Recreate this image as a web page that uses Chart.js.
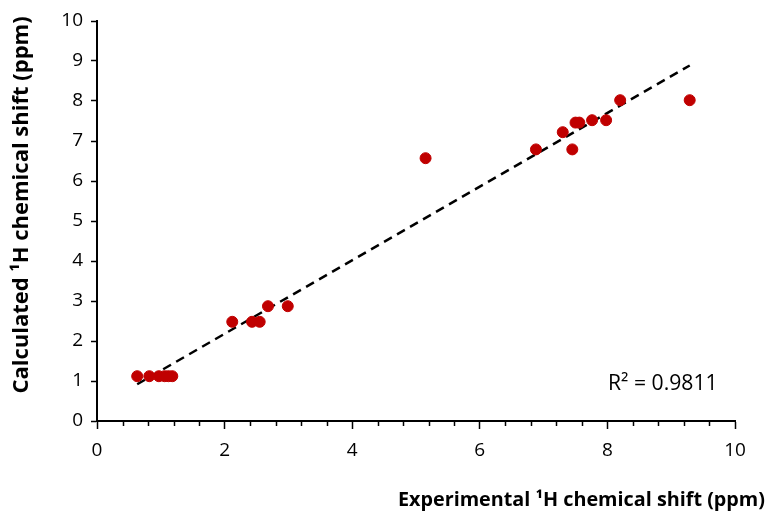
<!DOCTYPE html>
<html>
<head>
<meta charset="utf-8">
<script src="https://cdn.jsdelivr.net/npm/chart.js@4.4.0/dist/chart.umd.min.js"></script>
<style>
  html, body { margin: 0; padding: 0; background: #fff; }
  #wrap { width: 769px; height: 515px; position: relative; }
</style>
</head>
<body>
<div id="wrap"><canvas id="myChart" width="769" height="515"></canvas></div>
<script>
// experimental vs calculated 1H shifts (ppm)
var exp_shift = [0.63, 0.82, 0.97, 1.06, 1.12, 1.18, 2.12, 2.43, 2.55, 2.68, 2.99,
                 5.15, 6.88, 7.30, 7.45, 7.50, 7.56, 7.76, 7.98, 8.20, 9.29];
var calc_shift = [1.12, 1.12, 1.12, 1.12, 1.12, 1.12, 2.48, 2.48, 2.48, 2.87, 2.87,
                  6.57, 6.79, 7.22, 6.79, 7.46, 7.46, 7.52, 7.52, 8.02, 8.02];
var x_ticks = [0, 2, 4, 6, 8, 10];
var y_ticks = [0, 1, 2, 3, 4, 5, 6, 7, 8, 9, 10];
var r2_label = 'R² = 0.9811';
var x_title = 'Experimental ¹H chemical shift (ppm)';
var y_title = 'Calculated ¹H chemical shift (ppm)';

var font_family = '"Open Sans", sans-serif';

function linear_fit (xs, ys) {
  var n = xs.length, sx = 0, sy = 0, sxx = 0, sxy = 0;
  for (var i = 0; i < n; i++) {
    sx += xs[i]; sy += ys[i]; sxx += xs[i] * xs[i]; sxy += xs[i] * ys[i];
  }
  var slope = (n * sxy - sx * sy) / (n * sxx - sx * sx);
  return { slope: slope, intercept: (sy - slope * sx) / n };
}

// pick a font size so the text spans about the given width
function fit_font (ctx, text, weight, width) {
  ctx.font = weight + ' 20px ' + font_family;
  var size = 20 * width / ctx.measureText(text).width;
  ctx.font = weight + ' ' + size.toFixed(1) + 'px ' + font_family;
}

var points = exp_shift.map(function (v, i) { return { x: v, y: calc_shift[i] }; });
var fit = linear_fit(exp_shift, calc_shift);
var xmin = Math.min.apply(null, exp_shift), xmax = Math.max.apply(null, exp_shift);
var trend = [
  { x: xmin, y: fit.slope * xmin + fit.intercept },
  { x: xmax, y: fit.slope * xmax + fit.intercept }
];

// axis titles, r2 text and x minor ticks
var extras = {
  id: 'extras',
  afterDraw: function (chart) {
    var ctx = chart.ctx, xs = chart.scales.x, area = chart.chartArea;
    ctx.save();
    ctx.strokeStyle = '#000';
    ctx.lineWidth = 1.5;
    for (var v = 0.4; v < 10; v += 0.4) {
      if (Math.abs(v / 2 - Math.round(v / 2)) < 1e-6) continue;
      var px = Math.round(xs.getPixelForValue(v)) + 0.5;
      ctx.beginPath();
      ctx.moveTo(px, area.bottom);
      ctx.lineTo(px, area.bottom + 5);
      ctx.stroke();
    }
    ctx.fillStyle = '#000';
    ctx.textBaseline = 'middle';
    ctx.textAlign = 'right';
    fit_font(ctx, x_title, 'bold', 367);
    ctx.fillText(x_title, 765, 500);
    ctx.translate(22, 205);
    ctx.rotate(-Math.PI / 2);
    ctx.textAlign = 'center';
    fit_font(ctx, y_title, 'bold', 378);
    ctx.fillText(y_title, 0, 0);
    ctx.restore();

    ctx.save();
    ctx.fillStyle = '#000';
    fit_font(ctx, r2_label, 'normal', 110);
    ctx.textBaseline = 'middle';
    ctx.textAlign = 'left';
    ctx.fillText(r2_label, 608, 384);
    ctx.restore();
  }
};

var ctx = document.getElementById('myChart').getContext('2d');

var chart = new Chart(ctx, {
  type: 'scatter',
  data: {
    datasets: [{
      label: 'shifts',
      data: points,
      backgroundColor: '#C00000',
      borderColor: '#C00000',
      pointRadius: 5.5,
      pointHoverRadius: 5.5,
      order: 1
    }, {
      type: 'line',
      label: 'trend',
      data: trend,
      borderColor: '#000',
      borderWidth: 2.5,
      borderDash: [9, 6],
      pointRadius: 0,
      fill: false,
      order: 2
    }]
  },
  options: {
    responsive: false,
    animation: false,
    layout: { padding: { left: 0, top: 21, right: 34, bottom: 0 } },
    plugins: {
      legend: { display: false },
      tooltip: { enabled: false }
    },
    scales: {
      x: {
        type: 'linear',
        min: 0, max: 10,
        afterBuildTicks: function (s) { s.ticks = x_ticks.map(function (v) { return { value: v }; }); },
        afterFit: function (s) { s.height = 94; },
        border: { display: true, color: '#000', width: 2 },
        grid: { drawOnChartArea: false, drawTicks: true, tickLength: 8, tickWidth: 1.5, tickColor: '#000' },
        ticks: { color: '#000', padding: 10, maxRotation: 0, font: { size: 19, family: font_family } }
      },
      y: {
        type: 'linear',
        min: 0, max: 10,
        afterBuildTicks: function (s) { s.ticks = y_ticks.map(function (v) { return { value: v }; }); },
        afterFit: function (s) { s.width = 97; },
        border: { display: true, color: '#000', width: 2 },
        grid: { drawOnChartArea: false, drawTicks: true, tickLength: 6, tickWidth: 1.5, tickColor: '#000' },
        ticks: { color: '#000', padding: 8, font: { size: 19, family: font_family } }
      }
    }
  },
  plugins: [extras]
});
</script>
</body>
</html>
